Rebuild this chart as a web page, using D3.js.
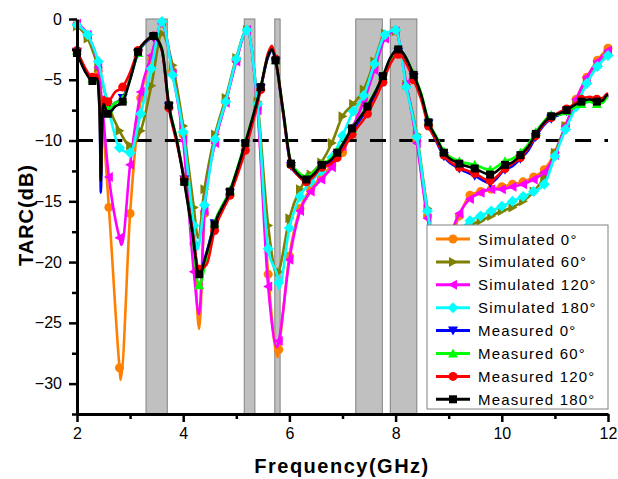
<!DOCTYPE html>
<html>
<head>
<meta charset="utf-8">
<script src="https://cdn.jsdelivr.net/npm/d3@7"></script>
<style>
  body { margin: 0; background: #fff; }
  svg { display: block; }
  text { font-family: "Liberation Sans", Arial, sans-serif; }
</style>
</head>
<body>
<svg id="chart"></svg>
<script>
// Simulated curves share one frequency grid (markers drawn on it)
const simFreq = [2.0,2.2,2.4,2.6,2.8,3.0,3.2,3.4,3.6,3.8,4.0,4.2,4.4,4.6,4.8,5.0,5.2,5.4,5.6,5.8,
  6.0,6.2,6.4,6.6,6.8,7.0,7.2,7.4,7.6,7.8,8.0,8.2,8.4,8.6,8.8,9.0,9.2,9.4,9.6,9.8,
  10.0,10.2,10.4,10.6,10.8,11.0,11.2,11.4,11.6,11.8,12.0];

const sim0 = [-0.5,-1.4,-4.3,-15.5,-28.7,-16.0,-6.5,-3.3,-0.4,-4.3,-9.5,-18.5,-16.0,-10.0,-6.8,-3.4,-0.9,-7.3,-21.0,-27.2,
  -19.5,-15.6,-14.0,-13.0,-12.0,-11.0,-9.0,-6.6,-4.0,-1.5,-1.0,-5.5,-10.0,-16.2,-19.5,-18.5,-16.2,-14.5,-14.2,-14.0,
  -13.8,-13.6,-13.4,-13.0,-12.4,-11.0,-8.8,-6.6,-4.8,-3.4,-2.4];
const sim60 = [-0.6,-1.6,-4.0,-7.2,-9.2,-10.4,-9.2,-5.5,-1.2,-3.8,-8.8,-15.5,-14.0,-9.5,-6.5,-3.2,-0.9,-6.8,-17.0,-20.8,
  -16.4,-14.0,-12.8,-11.8,-10.2,-8.0,-7.0,-5.8,-3.5,-1.2,-1.0,-5.4,-9.5,-15.6,-19.5,-19.0,-17.8,-17.0,-16.6,-16.2,
  -15.8,-15.5,-15.0,-14.2,-13.0,-11.0,-8.8,-7.0,-5.2,-3.8,-2.9];
const sim120 = [-0.4,-1.3,-4.0,-13.0,-18.0,-12.0,-6.0,-3.0,-0.4,-4.5,-10.0,-20.8,-15.8,-10.2,-6.9,-3.5,-0.9,-7.5,-22.0,-26.5,
  -19.8,-15.8,-14.2,-13.2,-12.2,-10.5,-8.8,-6.8,-4.2,-1.6,-1.0,-5.3,-10.2,-16.4,-19.5,-18.0,-16.0,-14.8,-14.3,-14.0,
  -14.0,-13.8,-13.6,-13.2,-12.6,-11.2,-8.8,-6.6,-4.8,-3.5,-2.6];
const sim180 = [-0.5,-1.3,-3.5,-7.5,-10.6,-11.0,-7.8,-4.1,-0.2,-4.6,-9.3,-17.0,-15.3,-9.9,-6.8,-3.3,-0.9,-7.0,-18.9,-21.7,
  -17.2,-14.6,-13.4,-12.5,-11.4,-9.6,-7.6,-6.3,-3.7,-1.3,-0.9,-5.6,-9.7,-15.8,-19.8,-19.0,-17.5,-16.6,-16.2,-15.8,
  -15.4,-15.0,-14.6,-14.2,-13.6,-11.3,-9.1,-7.2,-5.3,-3.9,-3.0];

// extra line-only points (dip minima)
const sim0Detail = [[2.82,-29.7],[4.3,-25.5],[5.78,-27.8]];
const sim60Detail = [[4.28,-18.0],[5.77,-21.1]];
const sim120Detail = [[2.84,-18.6],[4.3,-24.3],[5.77,-27.0]];
const sim180Detail = [[4.26,-19.0],[5.8,-22.2]];

// Measured curves share one frequency grid (markers drawn on it)
const measFreq = [2.0,2.29,2.58,2.86,3.15,3.44,3.73,4.02,4.3,4.59,4.88,5.17,5.46,5.74,6.03,6.32,6.61,6.9,
  7.18,7.47,7.76,8.05,8.34,8.62,8.91,9.2,9.49,9.78,10.06,10.35,10.64,10.93,11.22,11.5,11.79];

const meas0 = [-2.7,-5.0,-7.4,-6.5,-2.8,-1.5,-7.2,-13.2,-20.8,-16.8,-14.3,-10.3,-5.7,-3.5,-12.1,-13.3,-12.1,-11.2,
  -9.2,-7.4,-4.9,-2.7,-4.8,-8.6,-11.3,-12.3,-12.9,-13.5,-12.4,-11.5,-9.7,-8.2,-7.6,-6.9,-6.9];
const meas60 = [-2.6,-4.9,-7.4,-6.6,-2.8,-1.4,-7.0,-13.3,-21.9,-16.8,-14.1,-10.1,-5.6,-3.4,-11.8,-13.0,-11.9,-10.9,
  -9.0,-7.1,-4.7,-2.6,-4.5,-8.4,-10.9,-11.7,-12.0,-12.4,-11.7,-11.0,-9.3,-7.9,-7.6,-7.0,-7.0];
const meas120 = [-2.6,-4.8,-6.8,-5.6,-2.6,-1.4,-7.3,-13.2,-20.6,-17.4,-14.5,-10.8,-5.8,-3.3,-12.0,-13.4,-12.2,-11.4,
  -9.5,-7.8,-5.2,-2.9,-5.0,-8.8,-11.2,-12.2,-12.7,-13.3,-12.3,-11.4,-9.6,-8.1,-7.4,-6.6,-6.6];
const meas180 = [-2.8,-5.1,-7.8,-6.8,-2.7,-1.4,-7.1,-13.4,-21.0,-16.9,-14.2,-10.2,-5.6,-3.4,-11.9,-13.2,-12.0,-11.0,
  -9.0,-7.2,-4.7,-2.5,-4.6,-8.5,-11.0,-11.9,-12.3,-12.8,-12.0,-11.2,-9.45,-8.0,-7.5,-6.8,-6.8];

const meas0Detail = [[2.15,-4.2],[2.38,-4.8],[2.43,-8.5],[2.45,-14.3],[2.47,-9.5],[2.5,-7.0],[2.72,-6.9],[3.0,-4.9],
  [3.3,-1.9],[3.6,-2.6],[3.88,-10.0],[4.16,-17.0],[4.44,-19.2],[5.6,-3.1],[5.67,-2.6],[5.88,-7.7],[6.17,-12.9],
  [6.45,-12.9],[6.75,-11.8],[7.9,-3.4],[8.48,-6.4],[8.77,-10.1],[10.2,-12.1],[10.5,-10.8],[10.78,-8.8],[11.07,-7.9],
  [11.36,-7.2],[11.65,-6.7],[11.9,-6.8],[11.97,-6.4],[12.0,-6.3]];
const meas60Detail = [[2.15,-4.1],[2.38,-4.7],[2.43,-7.5],[2.45,-12.5],[2.47,-8.5],[2.5,-6.8],[2.72,-6.9],[3.0,-4.9],
  [3.3,-1.8],[3.6,-2.4],[3.88,-9.9],[4.16,-17.3],[4.44,-19.6],[5.6,-2.9],[5.67,-2.5],[5.88,-7.4],[6.17,-12.6],
  [6.45,-12.6],[6.75,-11.6],[7.9,-3.3],[8.48,-6.1],[8.77,-9.7],[10.2,-11.5],[10.5,-10.3],[10.78,-8.5],[11.07,-7.9],
  [11.36,-7.3],[11.65,-6.8],[11.9,-6.9],[11.97,-6.5],[12.0,-6.4]];
const meas120Detail = [[2.15,-4.0],[2.38,-4.6],[2.43,-7.5],[2.45,-12.8],[2.47,-8.5],[2.5,-6.4],[2.72,-6.0],[3.0,-4.4],
  [3.3,-1.8],[3.6,-2.6],[3.88,-10.2],[4.16,-17.0],[4.44,-20.2],[5.6,-2.8],[5.67,-2.2],[5.88,-7.6],[6.17,-12.9],
  [6.45,-13.0],[6.75,-12.0],[7.9,-3.7],[8.48,-6.6],[8.77,-10.0],[10.2,-11.9],[10.5,-10.6],[10.78,-8.7],[11.07,-7.7],
  [11.36,-7.0],[11.65,-6.4],[11.9,-6.5],[11.97,-6.2],[12.0,-6.1]];
const meas180Detail = [[2.15,-4.3],[2.38,-4.9],[2.43,-8.0],[2.45,-13.3],[2.47,-9.0],[2.5,-7.0],[2.72,-7.2],[3.0,-5.0],
  [3.3,-1.8],[3.6,-2.5],[3.88,-10.0],[4.16,-17.2],[4.44,-19.3],[5.6,-3.0],[5.67,-2.5],[5.88,-7.5],[6.17,-12.8],
  [6.45,-12.8],[6.75,-11.7],[7.9,-3.2],[8.48,-6.2],[8.77,-9.8],[10.2,-11.8],[10.5,-10.5],[10.78,-8.6],[11.07,-7.8],
  [11.36,-7.1],[11.65,-6.6],[11.9,-6.7],[11.97,-6.3],[12.0,-6.2]];

// shaded frequency bands (GHz)
const bandStart = [3.3, 5.15, 5.725, 7.25, 7.9];
const bandEnd = [3.7, 5.35, 5.825, 7.75, 8.4];

const xTicks = [2, 4, 6, 8, 10, 12];
const xMinorTicks = [3, 5, 7, 9, 11];
const yTicks = [0, -5, -10, -15, -20, -25, -30];
const yMinorTicks = [-2.5, -7.5, -12.5, -17.5, -22.5, -27.5, -32.5];
const threshold = -10;

const seriesNames = ["Simulated 0°", "Simulated 60°", "Simulated 120°", "Simulated 180°",
  "Measured 0°", "Measured 60°", "Measured 120°", "Measured 180°"];
const seriesColors = ["#ff8000", "#808000", "#ff00ff", "#00ffff", "#0000ff", "#00ff00", "#ff0000", "#000000"];
const seriesShapes = ["circle", "triRight", "triLeft", "diamond", "triDown", "triUp", "circle", "square"];

const series = [
  { f: simFreq, v: sim0, d: sim0Detail },
  { f: simFreq, v: sim60, d: sim60Detail },
  { f: simFreq, v: sim120, d: sim120Detail },
  { f: simFreq, v: sim180, d: sim180Detail },
  { f: measFreq, v: meas0, d: meas0Detail },
  { f: measFreq, v: meas60, d: meas60Detail },
  { f: measFreq, v: meas120, d: meas120Detail },
  { f: measFreq, v: meas180, d: meas180Detail }
].map((s, i) => ({
  name: seriesNames[i], color: seriesColors[i], shape: seriesShapes[i],
  marks: s.f.map((f, j) => [f, s.v[j]]),
  line: s.f.map((f, j) => [f, s.v[j]]).concat(s.d).sort((a, b) => a[0] - b[0])
}));

const W = 618, H = 479;
const margin = { left: 77, right: 10, top: 19, bottom: 65 };

const svg = d3.select("#chart").attr("width", W).attr("height", H);

const x = d3.scaleLinear().domain([2, 12]).range([margin.left, W - margin.right]);
const y = d3.scaleLinear().domain([-32.5, 0]).range([H - margin.bottom, margin.top]);

// marker shapes
function markerPath(shape) {
  switch (shape) {
    case "circle": return "M4.5,0A4.5,4.5 0 1,1 -4.5,0A4.5,4.5 0 1,1 4.5,0Z";
    case "triRight": return "M-4,-5L5,0L-4,5Z";
    case "triLeft": return "M4,-5L-5,0L4,5Z";
    case "diamond": return "M0,-5.5L5.5,0L0,5.5L-5.5,0Z";
    case "triDown": return "M-5,-4L5,-4L0,5Z";
    case "triUp": return "M-5,4L5,4L0,-5Z";
    case "square": return "M-4,-4L4,-4L4,4L-4,4Z";
  }
}

// bands
svg.append("g").selectAll("rect")
  .data(bandStart.map((b, i) => [b, bandEnd[i]]))
  .join("rect")
  .attr("x", d => x(d[0]))
  .attr("width", d => x(d[1]) - x(d[0]))
  .attr("y", y(0))
  .attr("height", y(-32.5) - y(0))
  .attr("fill", "#c0c0c0")
  .attr("stroke", "#808080")
  .attr("stroke-width", 1);

// -10 dB dashed line
svg.append("line")
  .attr("x1", x(2)).attr("x2", x(12))
  .attr("y1", y(threshold)).attr("y2", y(threshold))
  .attr("stroke", "#000")
  .attr("stroke-width", 3)
  .attr("stroke-dasharray", "16,13.3");

// curves
const line = d3.line()
  .x(d => x(d[0]))
  .y(d => y(d[1]))
  .curve(d3.curveMonotoneX);

const curves = svg.append("g");
series.forEach(s => {
  const g = curves.append("g");
  g.append("path")
    .attr("d", line(s.line))
    .attr("fill", "none")
    .attr("stroke", s.color)
    .attr("stroke-width", 2.6)
    .attr("stroke-linejoin", "round");
  g.selectAll("path.mk")
    .data(s.marks)
    .join("path")
    .attr("class", "mk")
    .attr("transform", d => `translate(${x(d[0])},${y(d[1])})`)
    .attr("d", markerPath(s.shape))
    .attr("fill", s.color);
});

// axes
const xAxis = svg.append("g")
  .attr("transform", `translate(0,${y(-32.5)})`)
  .call(d3.axisBottom(x).tickValues(xTicks).tickSizeInner(8).tickSizeOuter(0).tickPadding(6));
svg.append("g")
  .attr("transform", `translate(0,${y(-32.5)})`)
  .call(d3.axisBottom(x).tickValues(xMinorTicks).tickSize(5).tickFormat(""))
  .call(g => g.select(".domain").remove());

const yAxis = svg.append("g")
  .attr("transform", `translate(${x(2)},0)`)
  .call(d3.axisLeft(y).tickValues(yTicks).tickSizeInner(8).tickSizeOuter(0).tickPadding(7));
svg.append("g")
  .attr("transform", `translate(${x(2)},0)`)
  .call(d3.axisLeft(y).tickValues(yMinorTicks).tickSize(5).tickFormat(""))
  .call(g => g.select(".domain").remove());

svg.selectAll(".domain").attr("stroke-width", 3);
svg.selectAll(".tick line").attr("stroke-width", 2.5);
svg.selectAll(".tick text")
  .attr("font-size", 16)
  .attr("font-family", "Liberation Sans, Arial, sans-serif")
  .attr("fill", "#000");

// axis titles
svg.append("text")
  .attr("x", 342).attr("y", 473)
  .attr("text-anchor", "middle")
  .attr("font-size", 20)
  .attr("font-weight", "bold")
  .attr("letter-spacing", 1.5)
  .text("Frequency(GHz)");

svg.append("text")
  .attr("transform", "translate(33,215) rotate(-90)")
  .attr("text-anchor", "middle")
  .attr("font-size", 20)
  .attr("font-weight", "bold")
  .attr("letter-spacing", 1)
  .text("TARC(dB)");

// legend
const legend = svg.append("g");
legend.append("rect")
  .attr("x", 427).attr("y", 225)
  .attr("width", 181).attr("height", 184)
  .attr("fill", "#fff")
  .attr("stroke", "#808080")
  .attr("stroke-width", 1);

const rowY = i => 239 + i * 22.9;
const items = legend.selectAll("g.item")
  .data(series)
  .join("g")
  .attr("class", "item")
  .attr("transform", (d, i) => `translate(0,${rowY(i)})`);
items.append("line")
  .attr("x1", 436).attr("x2", 470)
  .attr("stroke", d => d.color)
  .attr("stroke-width", 3);
items.append("path")
  .attr("transform", "translate(453,0)")
  .attr("d", d => markerPath(d.shape))
  .attr("fill", d => d.color);
items.append("text")
  .attr("x", 478).attr("y", 5.5)
  .attr("font-size", 15)
  .attr("letter-spacing", 1.2)
  .text(d => d.name);
</script>
</body>
</html>
